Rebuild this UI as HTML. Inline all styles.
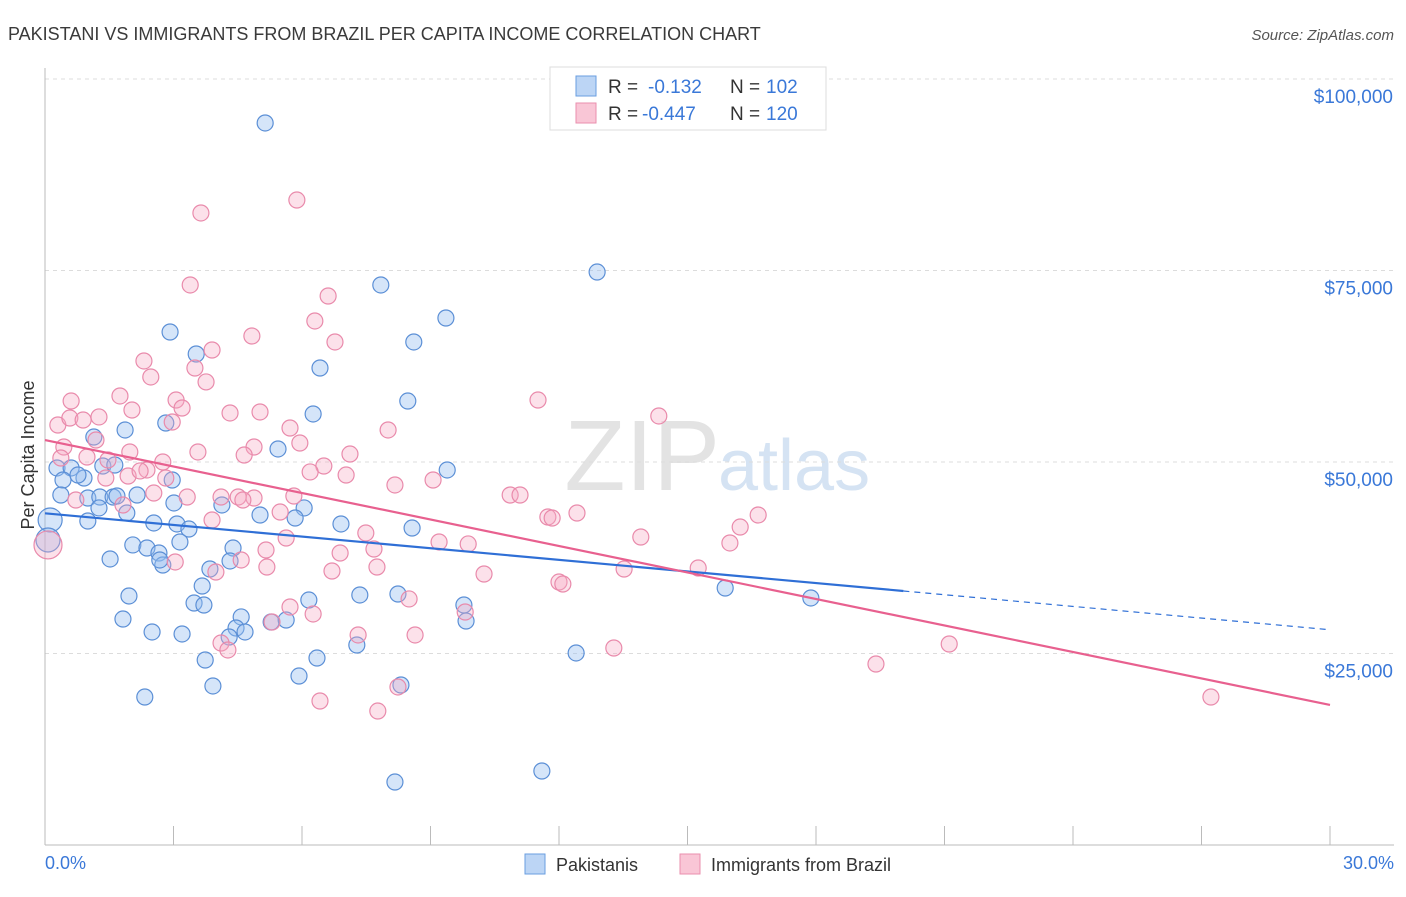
<!DOCTYPE html>
<html><head><meta charset="utf-8"><style>
body{margin:0;background:#fff;font-family:"Liberation Sans",sans-serif;}
svg text{font-family:"Liberation Sans",sans-serif;}
</style></head><body>
<svg id="c" width="1406" height="892">
<text x="8" y="40" font-size="18" fill="#3a3a3a">PAKISTANI VS IMMIGRANTS FROM BRAZIL PER CAPITA INCOME CORRELATION CHART</text>
<text x="1394" y="40" font-size="15" fill="#555" text-anchor="end" font-style="italic">Source: ZipAtlas.com</text>
<text x="720" y="490" font-size="100" fill="#e3e3e3" text-anchor="end" font-family="Liberation Serif">ZIP</text>
<text x="718" y="490" font-size="72" fill="#d5e3f3">atlas</text>
<g id="grid"></g><g id="pts"></g><g id="lines"></g>
<text transform="translate(34,455) rotate(-90)" font-size="18" fill="#333" text-anchor="middle">Per Capita Income</text>
<text x="45" y="869" font-size="18" fill="#3a78d8">0.0%</text>
<text x="1394" y="869" font-size="18" fill="#3a78d8" text-anchor="end">30.0%</text>
<g>
<rect x="550" y="67" width="276" height="63" fill="#fff" stroke="#ddd"/>
<rect x="576" y="76" width="20" height="20" fill="#bcd5f5" stroke="#6a9ee0"/>
<rect x="576" y="103" width="20" height="20" fill="#f9c6d6" stroke="#ea8fae"/>
<text x="608" y="93" font-size="19" fill="#333">R =</text><text x="648" y="93" font-size="19" fill="#3a78d8">-0.132</text>
<text x="730" y="93" font-size="19" fill="#333">N =</text><text x="766" y="93" font-size="19" fill="#3a78d8">102</text>
<text x="608" y="120" font-size="19" fill="#333">R =</text><text x="642" y="120" font-size="19" fill="#3a78d8">-0.447</text>
<text x="730" y="120" font-size="19" fill="#333">N =</text><text x="766" y="120" font-size="19" fill="#3a78d8">120</text>
</g>
<g>
<rect x="525" y="854" width="20" height="20" fill="#bcd5f5" stroke="#6a9ee0"/>
<text x="556" y="871" font-size="18" fill="#333">Pakistanis</text>
<rect x="680" y="854" width="20" height="20" fill="#f9c6d6" stroke="#ea8fae"/>
<text x="711" y="871" font-size="18" fill="#333">Immigrants from Brazil</text>
</g>
</svg>
<script>
const yTicks=[25000,50000,75000,100000];
const yTickLabels=["$25,000","$50,000","$75,000","$100,000"];
const xTicks=[0,3,6,9,12,15,18,21,24,27,30];
const blueX=[5.14,12.89,7.84,9.36,2.92,3.53,8.61,6.42,8.47,6.26,1.87,2.82,1.14,5.44,9.39,0.28,0.61,0.91,1.35,1.63,0.42,0.77,0.37,1.00,1.28,1.59,1.68,2.15,2.97,3.01,4.13,5.02,6.05,5.84,6.91,8.57,1.26,1.00,1.91,2.54,3.08,3.36,1.52,2.05,2.38,2.66,2.75,3.15,4.39,3.85,4.32,3.67,1.96,2.68,3.48,3.71,4.58,5.28,5.63,6.16,7.35,8.24,9.78,9.83,1.82,2.50,3.20,4.46,4.67,4.30,3.74,6.35,7.28,5.93,3.92,2.33,8.31,12.40,8.17,11.60,15.88,17.88,0.12,0.07];
const blueY=[94260,74800,73110,68800,66970,64100,65670,62270,57960,56270,54180,55090,53260,51700,48960,49220,49220,47910,49480,49610,47650,48300,45690,45300,45430,45430,45560,45690,47650,44650,44390,43080,44000,42690,41910,41380,44000,42300,43340,42040,41910,41250,37340,39170,38770,38120,36550,39560,38770,36030,37080,33810,32510,37210,31590,31330,29770,29110,29370,31980,32640,32770,31330,29240,29500,27810,27550,28330,27810,27150,24150,24410,26110,22060,20760,19320,20890,25070,8220,9660,33550,32250,42430,39820];
const pinkX=[5.88,3.64,3.39,6.61,4.83,6.30,6.77,3.90,2.31,2.47,3.50,3.76,0.61,1.75,2.03,3.06,3.20,2.97,4.32,5.02,5.72,8.01,11.51,14.33,0.30,0.58,0.89,1.26,1.19,0.44,0.37,0.98,1.47,1.98,2.75,2.38,3.57,4.88,4.65,5.95,7.12,6.51,6.19,7.03,1.42,1.94,2.22,2.54,2.82,3.32,4.11,4.51,4.88,4.62,5.81,8.17,9.06,10.86,11.09,0.72,1.82,3.90,5.49,5.63,5.16,5.18,4.58,3.99,3.04,6.89,7.68,7.49,7.75,6.70,9.20,9.88,10.25,11.74,11.84,12.42,12.00,12.09,13.91,15.25,16.23,16.65,15.99,13.52,5.72,6.26,5.30,8.50,9.81,7.31,8.64,4.11,4.27,13.28,21.11,19.40,6.42,7.77,8.24,27.22,0.07];
const pinkY=[84200,82510,73110,71670,66450,68410,65670,64620,63190,61100,62270,60450,57960,58620,56790,58090,57050,55220,56400,56530,54440,54180,58090,56010,54830,55740,55480,55880,52870,51960,50520,50650,50260,51310,50000,48960,51310,51960,50910,52480,51040,49480,48700,48300,47910,48170,48830,45950,47910,45430,45430,45430,45300,45040,45560,47000,47650,45690,45690,45040,44390,42430,43470,40080,38510,36290,37210,35640,36950,38120,38640,40730,36290,35770,39560,39300,35380,42820,42690,43340,34330,34070,40210,36160,41510,43080,39430,36030,31070,30160,29110,32120,30420,27420,27420,26370,25460,25720,26240,23630,18800,17490,20630,19320,39170];
const blueTrendX=[0,20.04,30];
const blueTrendY=[43300,33160,28100];
const pinkTrendX=[0,30];
const pinkTrendY=[52870,18280];
const NS="http://www.w3.org/2000/svg";
const xs=v=>45+v/30*1285;
const ys=v=>845-v/25000*191.5;
function mk(t,a,p){const e=document.createElementNS(NS,t);for(const k in a)e.setAttribute(k,a[k]);p.appendChild(e);return e;}
const grid=document.getElementById('grid');
yTicks.forEach((v,i)=>{
  const l=mk('line',{x1:45,x2:1394,y1:ys(v),y2:ys(v),stroke:'#dcdcdc','stroke-dasharray':'4,4'},grid);
  
  
  const t=mk('text',{x:1393,y:ys(v)+24,'font-size':19,fill:'#3a78d8','text-anchor':'end'},grid);
  t.textContent=yTickLabels[i];
  
  
});
const ax=mk('line',{x1:45,x2:45,y1:68,y2:845,stroke:'#bbb'},grid);


const bx=mk('line',{x1:45,x2:1394,y1:845,y2:845,stroke:'#bbb'},grid);


xTicks.forEach(v=>{
  const l=mk('line',{x1:xs(v),x2:xs(v),y1:826,y2:845,stroke:'#bbb'},grid);
  
  
});
const pts=document.getElementById('pts');
blueX.forEach((x,i)=>{
  const big=x<0.2;
  const c=mk('circle',{cx:xs(x),cy:ys(blueY[i]),r:big?12:8,fill:'rgba(150,190,240,0.4)',stroke:'#5b8fd6','stroke-width':1.2},pts);
  
  
});
pinkX.forEach((x,i)=>{
  const big=x<0.2;
  const c=mk('circle',{cx:xs(x),cy:ys(pinkY[i]),r:big?14:8,fill:'rgba(245,170,195,0.35)',stroke:'#e98aab','stroke-width':1.2},pts);
  
  
});
const lines=document.getElementById('lines');
const b1=mk('line',{x1:xs(blueTrendX[0]),y1:ys(blueTrendY[0]),x2:xs(blueTrendX[1]),y2:ys(blueTrendY[1]),stroke:'#2f6fd6','stroke-width':2.2},lines);


const b2=mk('line',{x1:xs(blueTrendX[1]),y1:ys(blueTrendY[1]),x2:xs(blueTrendX[2]),y2:ys(blueTrendY[2]),stroke:'#2f6fd6','stroke-width':1.2,'stroke-dasharray':'6,5'},lines);


const p1=mk('line',{x1:xs(pinkTrendX[0]),y1:ys(pinkTrendY[0]),x2:xs(pinkTrendX[1]),y2:ys(pinkTrendY[1]),stroke:'#e8608f','stroke-width':2.2},lines);


</script>
</body></html>
